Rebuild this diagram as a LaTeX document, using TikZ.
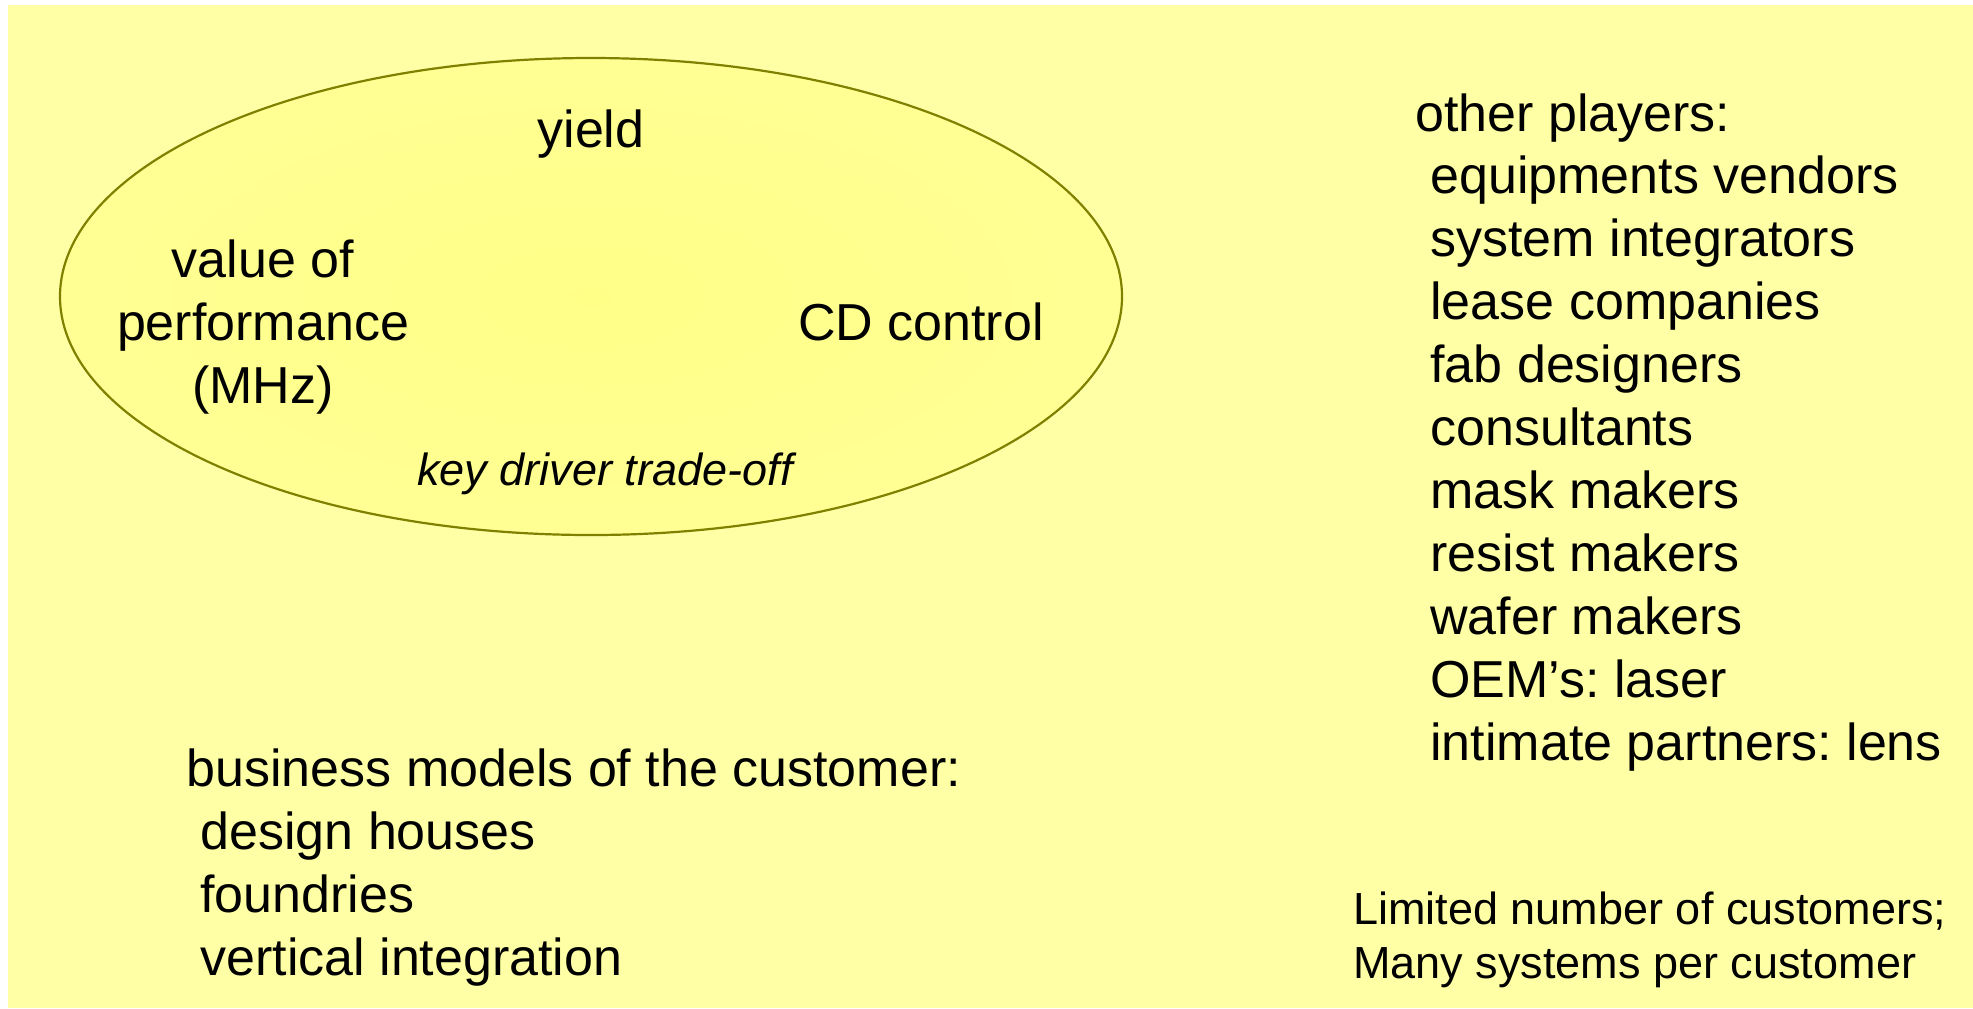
\documentclass[tikz,border=0pt]{standalone}
\usepackage{fontspec}
\setmainfont{Liberation Sans}
\frenchspacing
\definecolor{bgyellow}{RGB}{255,255,166}
\definecolor{ellinner}{RGB}{255,255,136}
\definecolor{ellouter}{RGB}{255,255,148}
\definecolor{olivestroke}{RGB}{128,128,0}
\tikzset{
  bigtext/.style={inner sep=0pt, font=\fontsize{26pt}{31.5pt}\selectfont},
  smalltext/.style={inner sep=0pt, font=\fontsize{22.5pt}{27.5pt}\selectfont},
  lefttext/.style={bigtext, anchor=base west},
  midtext/.style={bigtext, anchor=base},
}
\begin{document}
\begin{tikzpicture}[x=0.5pt,y=-0.5pt]
\useasboundingbox (0,0) rectangle (1973,1008);
\fill[white] (0,0) rectangle (1973,1008);
\fill[bgyellow] (8,5) rectangle (1973,1008);
% ellipse
\path[inner color=ellinner, outer color=ellouter] (591,296.5) ellipse [x radius=531, y radius=238.5];
\draw[olivestroke, line width=1.1pt] (591,296.5) ellipse [x radius=531, y radius=238.5];
\coordinate (ell) at (591,296.5);
% texts in ellipse
\node[midtext] (yield) at (591,147) {yield};
\node[midtext] (val1) at (263,277) {value of};
\node[midtext] (val2) at (263,340) {performance};
\node[midtext] (val3) at (263,403) {(MHz)};
\node[midtext] (cd) at (921,340) {CD control};
\node[smalltext, anchor=base, font=\fontsize{22.5pt}{27.5pt}\selectfont\itshape] (kd) at (605,485) {key driver trade-off};
% business models
\node[lefttext] (bm) at (186,786) {business models of the customer:};
\node[lefttext] (bm1) at (200,849) {design houses};
\node[lefttext] (bm2) at (200,912) {foundries};
\node[lefttext] (bm3) at (200,975) {vertical integration};
% other players
\node[lefttext] (op) at (1415,131) {other players:};
\foreach \t [count=\i from 0] in {equipments vendors, system integrators, lease companies, fab designers, consultants, mask makers, resist makers, wafer makers, {OEM’s: laser}, {intimate partners: lens}}{
  \node[lefttext] (op\i) at (1430,193+63*\i) {\t};
}
% limited
\node[smalltext, anchor=base west] (lim1) at (1353,924) {Limited number of customers;};
\node[smalltext, anchor=base west] (lim2) at (1353,978) {Many systems per customer};
\end{tikzpicture}
\end{document}
